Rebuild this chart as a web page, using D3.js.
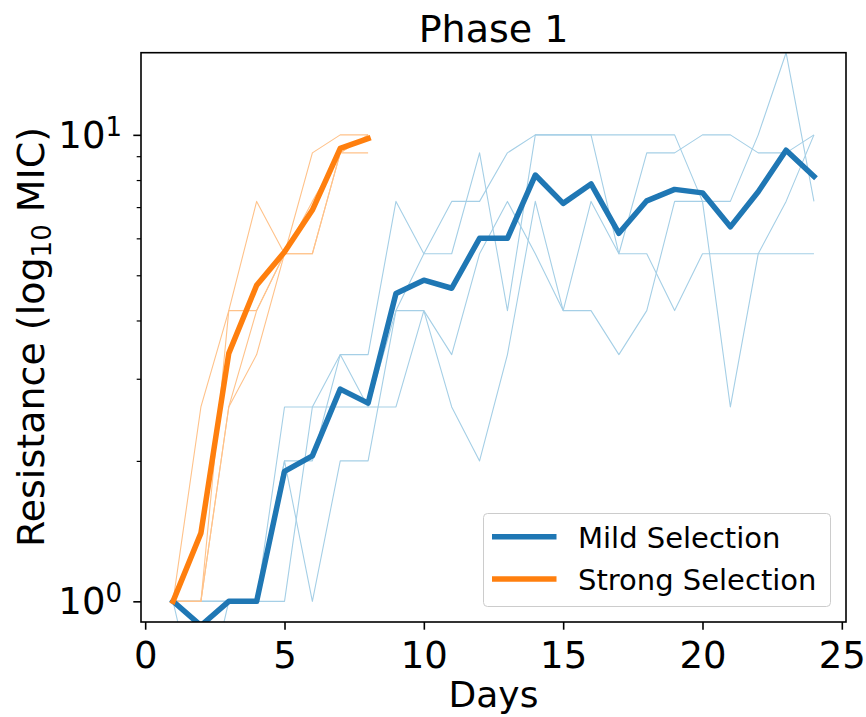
<!DOCTYPE html>
<html>
<head>
<meta charset="utf-8">
<script src="https://cdn.jsdelivr.net/npm/d3@7"></script>
<style>
  body { margin: 0; background: #ffffff; }
  svg { display: block; font-family: "DejaVu Sans", sans-serif; }
</style>
</head>
<body>
<svg id="chart" width="866" height="717"></svg>
<script>
// ---- data -------------------------------------------------------------
const mildDays   = [1, 2, 3, 4, 5, 6, 7, 8, 9, 10, 11, 12, 13, 14, 15, 16, 17, 18, 19, 20, 21, 22, 23, 24];
const strongDays = [1, 2, 3, 4, 5, 6, 7, 8];

// individual replicate MIC trajectories (normalised MIC)
const mildRep1 = [1, 1, 1, 1, 1, 2.61, 3.38, 3.38, 7.2, 5.56, 7.2, 7.2, 9.15, 10, 10, 10, 10, 10, 10, 7.2, 2.61, 5.56, 7.2, 10];
const mildRep2 = [1, 0.55, 1, 1, 2, 1, 2, 2, 4.2, 5.56, 5.56, 9.15, 4.2, 10, 10, 10, 5.56, 9.15, 9.15, 10, 10, 9.15, 9.15, 10];
const mildRep3 = [1, 1, 1, 1, 2, 2, 3.38, 2.61, 4.2, 4.2, 3.38, 5.56, 7.2, 5.56, 4.2, 7.2, 5.56, 5.56, 4.2, 5.56, 5.56, 5.56, 5.56, 5.56];
const mildRep4 = [1, 1, 1, 1, 2.61, 2.61, 2.61, 2.61, 2.61, 4.2, 2.61, 2, 3.38, 7.2, 4.2, 4.2, 3.38, 4.2, 7.2, 7.2, 7.2, 10, 15, 7.2];

const strongRep1 = [1, 2.61, 4.2, 7.2, 5.56, 5.56, 9.15, 9.15];
const strongRep2 = [1, 1, 4.2, 4.2, 5.56, 9.15, 10, 10];
const strongRep3 = [1, 1, 2.61, 3.38, 5.56, 7.2, 9.15, 10];
const strongRep4 = [1, 1, 2.61, 4.2, 5.56, 5.56, 9.15, 10];

// average trajectories
const mildMean   = [1, 0.887, 1, 1, 1.90, 2.05, 2.85, 2.66, 4.57, 4.88, 4.69, 6.0, 6.0, 8.2, 7.13, 7.85, 6.15, 7.22, 7.64, 7.51, 6.35, 7.55, 9.27, 8.15];
const strongMean = [1, 1.40, 3.40, 4.76, 5.61, 6.9, 9.35, 9.82];

const seriesNames = ["Mild Selection", "Strong Selection"];
const xTicks = [0, 5, 10, 15, 20, 25];
const yMajorTicks = [1, 10];
const yMinorTicks = [2, 3, 4, 5, 6, 7, 8, 9];

// ---- layout -----------------------------------------------------------
const colors = {
  mild: "#1f77b4",
  strong: "#ff7f0e",
  mildThin: "#a5cfe6",
  strongThin: "#ffc28a"
};
const box = { left: 141, right: 846, top: 52.7, bottom: 622 };
const bigFont = 38;
const tickFont = 37;

const svg = d3.select("#chart");

const x = d3.scaleLinear().domain([-0.15, 25.15]).range([box.left, box.right]);
const y = d3.scaleLog().domain([0.903, 15]).range([box.bottom, box.top]);

svg.append("defs").append("clipPath").attr("id", "plot-clip")
  .append("rect")
  .attr("x", box.left).attr("y", box.top)
  .attr("width", box.right - box.left).attr("height", box.bottom - box.top);

const plotG = svg.append("g").attr("clip-path", "url(#plot-clip)");

function lineFor(days) {
  return d3.line().x((d, i) => x(days[i])).y(d => y(d));
}

// thin replicate lines
[mildRep1, mildRep2, mildRep3, mildRep4].forEach(rep => {
  plotG.append("path").datum(rep)
    .attr("d", lineFor(mildDays))
    .attr("fill", "none").attr("stroke", colors.mildThin)
    .attr("stroke-width", 1.1).attr("stroke-linejoin", "round");
});
[strongRep1, strongRep2, strongRep3, strongRep4].forEach(rep => {
  plotG.append("path").datum(rep)
    .attr("d", lineFor(strongDays))
    .attr("fill", "none").attr("stroke", colors.strongThin)
    .attr("stroke-width", 1.1).attr("stroke-linejoin", "round");
});

// mean lines
plotG.append("path").datum(mildMean)
  .attr("d", lineFor(mildDays))
  .attr("fill", "none").attr("stroke", colors.mild)
  .attr("stroke-width", 5.5).attr("stroke-linejoin", "round").attr("stroke-linecap", "square");
plotG.append("path").datum(strongMean)
  .attr("d", lineFor(strongDays))
  .attr("fill", "none").attr("stroke", colors.strong)
  .attr("stroke-width", 5.5).attr("stroke-linejoin", "round").attr("stroke-linecap", "square");

// ---- axes -------------------------------------------------------------
const xAxis = d3.axisBottom(x).tickValues(xTicks).tickSize(7.7).tickPadding(12).tickFormat(d3.format("d"));
const xg = svg.append("g").attr("transform", `translate(0,${box.bottom})`).call(xAxis);
xg.select(".domain").remove();
xg.selectAll(".tick line").attr("stroke", "#000").attr("stroke-width", 1.6);
xg.selectAll(".tick text").attr("font-size", tickFont).attr("font-family", "DejaVu Sans").attr("fill", "#000");

const yAxis = d3.axisLeft(y).tickValues(yMajorTicks).tickSize(7.7).tickPadding(11).tickFormat(() => "");
const yg = svg.append("g").attr("transform", `translate(${box.left},0)`).call(yAxis);
yg.select(".domain").remove();
yg.selectAll(".tick line").attr("stroke", "#000").attr("stroke-width", 1.6);
yg.selectAll(".tick text")
  .attr("font-size", tickFont).attr("font-family", "DejaVu Sans").attr("fill", "#000")
  .attr("x", -19).attr("dy", "0.34em")
  .each(function (d) {
    const t = d3.select(this);
    t.append("tspan").text("10");
    t.append("tspan").attr("font-size", 26).attr("dy", -12).text(Math.round(Math.log10(d)));
  });

const yMinor = d3.axisLeft(y).tickValues(yMinorTicks).tickSize(4.3).tickFormat(() => "");
const ymg = svg.append("g").attr("transform", `translate(${box.left},0)`).call(yMinor);
ymg.select(".domain").remove();
ymg.selectAll(".tick line").attr("stroke", "#000").attr("stroke-width", 1.2);

// frame
svg.append("rect")
  .attr("x", box.left).attr("y", box.top)
  .attr("width", box.right - box.left).attr("height", box.bottom - box.top)
  .attr("fill", "none").attr("stroke", "#000").attr("stroke-width", 1.6);

// ---- titles -----------------------------------------------------------
svg.append("text")
  .attr("x", (box.left + box.right) / 2).attr("y", 42)
  .attr("text-anchor", "middle").attr("font-size", bigFont).attr("fill", "#000")
  .text("Phase 1");

svg.append("text")
  .attr("x", (box.left + box.right) / 2).attr("y", 707)
  .attr("text-anchor", "middle").attr("font-size", 36).attr("fill", "#000")
  .text("Days");

const yl = svg.append("text")
  .attr("transform", "translate(44,547) rotate(-90)")
  .attr("text-anchor", "start").attr("font-size", bigFont).attr("fill", "#000");
yl.append("tspan").text("Resistance (log");
yl.append("tspan").attr("font-size", 26).attr("dy", 7).text("10");
yl.append("tspan").attr("dy", -7).text(" MIC)");

// ---- legend -----------------------------------------------------------
const leg = svg.append("g");
leg.append("rect")
  .attr("x", 483.5).attr("y", 513.5).attr("width", 347).attr("height", 93)
  .attr("rx", 4).attr("ry", 4)
  .attr("fill", "#fff").attr("fill-opacity", 0.8)
  .attr("stroke", "#cccccc").attr("stroke-width", 1);
[colors.mild, colors.strong].forEach((c, i) => {
  const yy = 536.7 + i * 42.3;
  leg.append("line")
    .attr("x1", 492).attr("x2", 556.5).attr("y1", yy).attr("y2", yy)
    .attr("stroke", c).attr("stroke-width", 5.5);
  leg.append("text")
    .attr("x", 578).attr("y", yy + 11)
    .attr("font-size", 29).attr("fill", "#000")
    .text(seriesNames[i]);
});
</script>
</body>
</html>
